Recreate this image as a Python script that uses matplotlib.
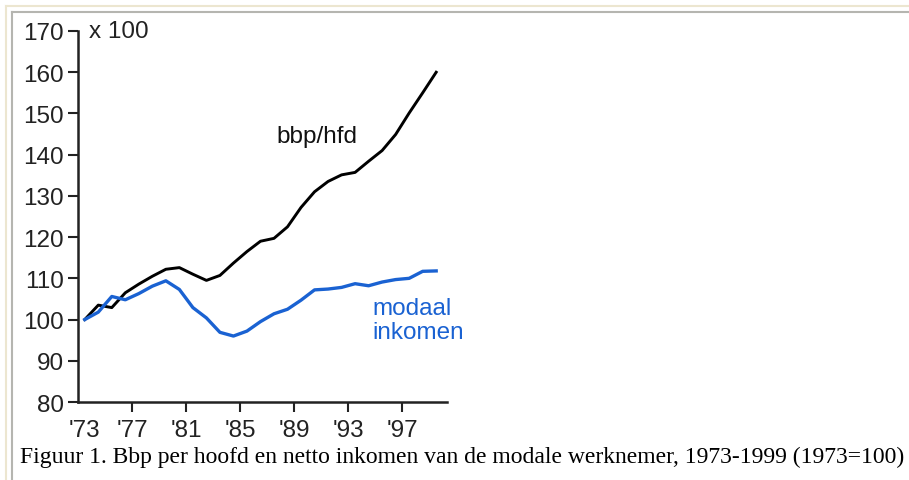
import matplotlib
matplotlib.use("Agg")
import matplotlib.pyplot as plt
from matplotlib.lines import Line2D

# --- data (1973 = 100) ---
years = list(range(1973, 2000))
bbp_hfd = [100.0, 103.5, 102.9, 106.5, 108.6, 110.5, 112.2, 112.6, 111.0, 109.5,
           110.7, 113.7, 116.5, 119.0, 119.7, 122.5, 127.2, 131.0, 133.5, 135.1,
           135.7, 138.4, 141.0, 144.9, 150.1, 155.0, 160.0]
modaal = [100.0, 101.8, 105.6, 104.8, 106.3, 108.1, 109.4, 107.3, 102.9, 100.4,
          96.9, 96.0, 97.2, 99.5, 101.4, 102.5, 104.7, 107.2, 107.4, 107.8,
          108.7, 108.2, 109.1, 109.7, 110.0, 111.7, 111.8]
tick_years = [1977, 1981, 1985, 1989, 1993, 1997]
tick_labels = ["'77", "'81", "'85", "'89", "'93", "'97"]
y_ticks = [80, 90, 100, 110, 120, 130, 140, 150, 160, 170]

caption = "Figuur 1. Bbp per hoofd en netto inkomen van de modale werknemer, 1973-1999 (1973=100)"

blue = "#1a62d2"
dark = "#222222"
sans = "Liberation Sans"
fs = 17.5

fig = plt.figure(figsize=(9.09, 4.81), dpi=100)
ax = fig.add_axes([78 / 909, 78 / 481, 369 / 909, 371 / 481])

# data drawn mid-year
xs = [y + 0.5 for y in years]
ax.plot(xs, bbp_hfd, color="black", lw=2.1, solid_joinstyle="round")
ax.plot(xs, modaal, color=blue, lw=2.4, solid_joinstyle="round")

ax.set_xlim(1973, 2000.3)
ax.set_ylim(80, 170)

for s in ["top", "right"]:
    ax.spines[s].set_visible(False)
for s in ["left", "bottom"]:
    ax.spines[s].set_linewidth(1.8)
    ax.spines[s].set_color(dark)

ax.set_yticks(y_ticks)
ax.set_yticklabels([str(v) for v in y_ticks], fontsize=fs, family=sans, color=dark)
ax.set_xticks(tick_years)
ax.set_xticklabels(tick_labels, fontsize=fs, family=sans, color=dark)
ax.tick_params(axis="both", direction="out", length=7, width=1.5, color=dark)
ax.tick_params(axis="y", pad=3)
ax.tick_params(axis="x", pad=5)

# '73 label sits under the axis corner without a tick
ax.text(1973.5, -0.045, "'73", transform=ax.get_xaxis_transform(), ha="center", va="top",
        fontsize=fs, family=sans, color=dark)

ax.text(0.03, 1.0, "x 100", transform=ax.transAxes, ha="left", va="center",
        fontsize=fs, family=sans, color=dark)
ax.text(1987.7, 144.5, "bbp/hfd", ha="left", va="center", fontsize=fs, family=sans, color="#111111")
ax.text(1994.8, 99.9, "modaal\ninkomen", ha="left", va="center", fontsize=fs, family=sans,
        color=blue, linespacing=1.1)

fig.text(20 / 909, 1 - 463 / 481, caption, ha="left", va="baseline", fontsize=17.0,
         family="Liberation Serif", color="black")

# page frame lines
fig.add_artist(Line2D([6 / 909, 1], [1 - 7 / 481] * 2, color="#ece6d0", lw=1.5))
fig.add_artist(Line2D([6 / 909] * 2, [0, 1 - 7 / 481], color="#ece6d0", lw=1.5))
fig.add_artist(Line2D([12 / 909, 1], [1 - 13 / 481] * 2, color="#b5b5b0", lw=1.5))
fig.add_artist(Line2D([12 / 909] * 2, [0, 1 - 13 / 481], color="#b5b5b0", lw=1.5))

fig.savefig("out.png", dpi=100)
